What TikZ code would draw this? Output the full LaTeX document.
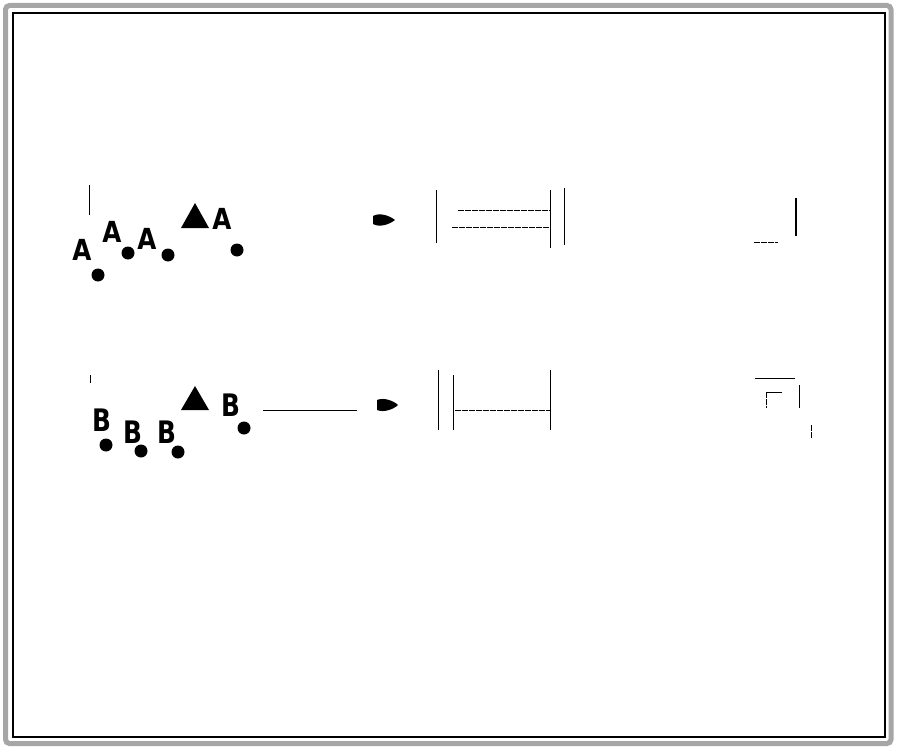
\documentclass[tikz,border=0pt]{standalone}
\usepackage{fontspec}
\setmainfont{DejaVu Sans}
\begin{document}
\begin{tikzpicture}[x=1pt,y=-1pt,
  letter/.style={inner sep=0pt, xscale=0.85, font=\fontsize{29}{29}\selectfont\bfseries},
  bletter/.style={inner sep=0pt, xscale=0.8, font=\fontsize{31}{31}\selectfont\bfseries},
  dot/.style={circle, fill=black, inner sep=0pt, minimum size=13pt},
  thin/.style={line width=0.8pt, black},
  faint/.style={line width=0.8pt, black, dash pattern=on 6pt off 1pt}]
\useasboundingbox (0,0) rectangle (900,752);
% frame
\draw[line width=5pt, gray!70, rounded corners=4pt] (5.5,5.5) rectangle (891,743.5);
\draw[line width=1.2pt] (13,13) rectangle (885,737);
% ---------- row 1 ----------
\coordinate (r1top) at (89,185);
\coordinate (r1bot) at (89,215);
\draw[thin] (r1top) -- (r1bot);
\node[letter] (a1) at (82,250) {A};
\node[letter] (a2) at (112,232) {A};
\node[letter] (a3) at (147,239) {A};
\node[letter] (a4) at (222,219) {A};
\node[dot] (d1) at (98,275) {};
\node[dot] (d2) at (128,253) {};
\node[dot] (d3) at (168,255) {};
\node[dot] (d4) at (237,250) {};
\fill (181,228) -- (195,203) -- (209,228) -- cycle;
\fill (373,216) .. controls (380,212) and (390,216) .. (395,220) .. controls (390,224) and (380,228) .. (373,224) -- cycle;
% bar 1
\coordinate (b1a) at (436,190);
\coordinate (b1b) at (436,243);
\draw[thin] (b1a) -- (b1b);
\coordinate (b1c) at (550,190);
\coordinate (b1d) at (550,248);
\draw[thin] (b1c) -- (b1d);
\coordinate (b1e) at (564,188);
\coordinate (b1f) at (564,245);
\draw[thin] (b1e) -- (b1f);
\coordinate (h1a) at (458,210);
\coordinate (h1b) at (550,210);
\draw[faint] (h1a) -- (h1b);
\coordinate (h1c) at (452,227);
\coordinate (h1d) at (550,227);
\draw[faint] (h1c) -- (h1d);
% right fragment 1
\coordinate (f1a) at (796,198);
\coordinate (f1b) at (796,236);
\draw[line width=1.3pt] (f1a) -- (f1b);
\coordinate (f1c) at (754,242);
\coordinate (f1d) at (778,242);
\draw[faint] (f1c) -- (f1d);
% ---------- row 2 ----------
\coordinate (r2top) at (90,375);
\coordinate (r2bot) at (90,383);
\draw[thin] (r2top) -- (r2bot);
\node[bletter] (b1) at (102,420) {B};
\node[bletter] (b2) at (133,432) {B};
\node[bletter] (b3) at (167,432) {B};
\node[bletter] (b4) at (231,405) {B};
\node[dot] (e1) at (106,445) {};
\node[dot] (e2) at (141,451) {};
\node[dot] (e3) at (178,452) {};
\node[dot] (e4) at (244,428) {};
\fill (181,410) -- (195,386) -- (209,410) -- cycle;
\coordinate (l2a) at (263,410);
\coordinate (l2b) at (357,410);
\draw[thin] (l2a) -- (l2b);
\fill (377,400) .. controls (384,397) and (394,401) .. (398,405) .. controls (394,409) and (384,413) .. (377,410) -- cycle;
% bar 2
\coordinate (b2a) at (438,370);
\coordinate (b2b) at (438,430);
\draw[thin] (b2a) -- (b2b);
\coordinate (b2c) at (453,375);
\coordinate (b2d) at (453,430);
\draw[thin] (b2c) -- (b2d);
\coordinate (b2e) at (550,370);
\coordinate (b2f) at (550,430);
\draw[thin] (b2e) -- (b2f);
\coordinate (h2a) at (455,410);
\coordinate (h2b) at (550,410);
\draw[faint] (h2a) -- (h2b);
% right fragment 2
\coordinate (f2a) at (755,378);
\coordinate (f2b) at (795,378);
\draw[thin] (f2a) -- (f2b);
\coordinate (f2c) at (766,392);
\coordinate (f2d) at (782,392);
\draw[thin] (f2c) -- (f2d);
\coordinate (f2e) at (766,392);
\coordinate (f2f) at (766,408);
\draw[faint] (f2e) -- (f2f);
\coordinate (f2g) at (799,385);
\coordinate (f2h) at (799,408);
\draw[thin] (f2g) -- (f2h);
\coordinate (f2i) at (811,425);
\coordinate (f2j) at (811,438);
\draw[faint] (f2i) -- (f2j);
\end{tikzpicture}
\end{document}
